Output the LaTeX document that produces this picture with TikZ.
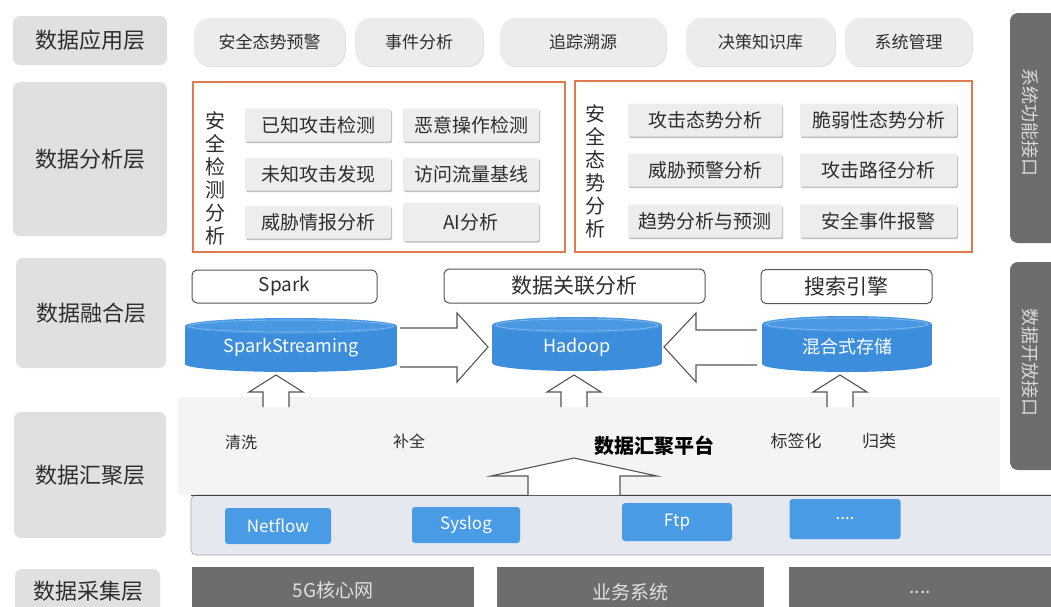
\documentclass[tikz,border=0pt]{standalone}
\usepackage{fontspec}
\setmainfont{Noto Sans CJK SC}
\usetikzlibrary{shadows}
\definecolor{lblgray}{HTML}{E0E0E0}
\definecolor{appgray}{HTML}{ECECEC}
\definecolor{cellgray}{HTML}{EDEDED}
\definecolor{orangeline}{HTML}{E07A50}
\definecolor{cylblue}{HTML}{3C8EDC}
\definecolor{cyltop}{HTML}{4A98E2}
\definecolor{boxblue}{HTML}{4A9BE6}
\definecolor{darkbar}{HTML}{6D6D6D}
\definecolor{bandfill}{HTML}{E5E8EF}
\definecolor{platfill}{HTML}{F4F4F4}
\definecolor{txt}{HTML}{2E2E2E}
\definecolor{arrline}{HTML}{555555}
\newcommand\myfs[2]{\fontsize{#1pt}{#2pt}\selectfont}
\newcommand\cylnode[6]{%
  \fill[cylblue] ({#2-#4/2},{#3-#5/2+8}) rectangle ({#2+#4/2},{#3+#5/2-8});
  \fill[cylblue] (#2,{#3+#5/2-8}) ellipse [x radius={#4/2}, y radius=8];
  \fill[cyltop] (#2,{#3-#5/2+8}) ellipse [x radius={#4/2}, y radius=8];
  \draw[white, opacity=0.35, line width=0.6pt] (#2,{#3-#5/2+8}) ellipse [x radius={#4/2-4}, y radius=6];
  \node[cyltext, minimum width=#4pt, minimum height=#5pt] (#1) at (#2,{#3+3}) {#6};
}
\begin{document}
\begin{tikzpicture}[x=1pt,y=-1pt,
  every node/.style={inner sep=0pt, text=txt},
  lbl/.style={fill=lblgray, rounded corners=7pt, font=\myfs{22}{24}},
  app/.style={fill=appgray, rounded corners=16pt, font=\myfs{17}{19}, minimum height=48pt,
    drop shadow={shadow xshift=0.8pt, shadow yshift=-1.2pt, opacity=0.12, fill=black}},
  oframe/.style={draw=orangeline, line width=1.2pt},
  vlab/.style={align=center, font=\myfs{20}{23}},
  cell/.style={fill=cellgray, font=\myfs{19}{21}, minimum height=33pt, rounded corners=2pt,
    drop shadow={shadow xshift=1pt, shadow yshift=-1.6pt, opacity=0.25, fill=black}},
  wbox/.style={draw=arrline, fill=white, rounded corners=5pt, line width=1pt, minimum height=34pt},
  cyltext/.style={text=white, font=\myfs{18}{20}},
  hollow/.style={draw=arrline, fill=white, line width=1.1pt, line join=miter},
  bbox/.style={fill=boxblue, rounded corners=3pt, text=white, font=\myfs{17}{19}},
  dbox/.style={fill=darkbar, text=white!88!black, font=\myfs{19}{21}},
  rbar/.style={fill=darkbar, rounded corners=8pt},
  rtext/.style={text=white!85!black, font=\myfs{18}{20}, rotate=-90},
  small/.style={font=\myfs{16}{18}}
]
\useasboundingbox (0,0) rectangle (1051,606);
\clip (0,0) rectangle (1051,606);
\fill[white] (0,0) rectangle (1051,606);

% ---------- left layer labels ----------
\node[lbl, minimum width=154pt, minimum height=49pt] (L1) at (90,40.5) {数据应用层};
\node[lbl, minimum width=154pt, minimum height=154pt] (L2) at (90,159) {数据分析层};
\node[lbl, minimum width=150pt, minimum height=110pt] (L3) at (91,313) {数据融合层};
\node[lbl, minimum width=152pt, minimum height=126pt] (L4) at (90,475) {数据汇聚层};
\fill[lblgray, rounded corners=7pt] (15,569) rectangle (160,630);
\node[font=\myfs{22}{24}] (L5) at (88,591) {数据采集层};

% ---------- right interface bars ----------
\fill[rbar] (1010,13) rectangle (1065,243);
\node[rtext] (R1) at (1030,122) {系统功能接口};
\fill[rbar] (1010,262) rectangle (1065,470);
\node[rtext] (R2) at (1030,362) {数据开放接口};

% ---------- application layer ----------
\node[app, minimum width=151pt] (a1) at (269.5,42) {安全态势预警};
\node[app, minimum width=128pt] (a2) at (419,42) {事件分析};
\node[app, minimum width=166pt] (a3) at (583,42) {追踪溯源};
\node[app, minimum width=149pt] (a4) at (760.5,42) {决策知识库};
\node[app, minimum width=127pt] (a5) at (908.5,42) {系统管理};

% ---------- analysis layer ----------
\node[oframe, minimum width=372pt, minimum height=170pt] (F1) at (379,167) {};
\node[oframe, minimum width=397pt, minimum height=171pt] (F2) at (773.5,166.5) {};
\node[vlab] (v1) at (215,178) {安\\全\\检\\测\\分\\析};
\node[vlab] (v2) at (595,171) {安\\全\\态\\势\\分\\析};

\node[cell, minimum width=146pt] (c11) at (318,125) {已知攻击检测};
\node[cell, minimum width=136pt] (c12) at (471,125) {恶意操作检测};
\node[cell, minimum width=146pt] (c21) at (318,174) {未知攻击发现};
\node[cell, minimum width=136pt] (c22) at (471,174) {访问流量基线};
\node[cell, minimum width=146pt] (c31) at (318,222) {威胁情报分析};
\node[cell, minimum width=136pt, minimum height=38pt] (c32) at (471,222) {AI分析};

\node[cell, minimum width=154pt] (d11) at (705,120) {攻击态势分析};
\node[cell, minimum width=157pt] (d12) at (878.5,120) {脆弱性态势分析};
\node[cell, minimum width=154pt] (d21) at (705,170) {威胁预警分析};
\node[cell, minimum width=157pt] (d22) at (878.5,170) {攻击路径分析};
\node[cell, minimum width=154pt] (d31) at (705,221) {趋势分析与预测};
\node[cell, minimum width=157pt] (d32) at (878.5,221) {安全事件报警};

% ---------- aggregation platform background ----------
\fill[platfill] (178,397) rectangle (1000,495);

% ---------- fusion layer ----------
\node[wbox, minimum width=185pt, minimum height=33pt, font=\myfs{19}{21}] (spark) at (284.5,286.5) {Spark};
\node[wbox, minimum width=261pt, font=\myfs{21}{23}] (corr) at (574.5,286) {数据关联分析};
\node[wbox, minimum width=171pt, font=\myfs{21}{23}] (search) at (846.5,286.5) {搜索引擎};

% hollow arrows between stores
\draw[hollow] (400,328) -- (457,328) -- (457,313) -- (488,347) -- (457,382) -- (457,367) -- (400,367);
\draw[hollow] (757,330) -- (696,330) -- (696,313) -- (664,347) -- (696,382) -- (696,365) -- (757,365);

\cylnode{ss}{291}{345}{212}{54}{SparkStreaming}
\cylnode{hd}{577}{344}{170}{54}{Hadoop}
\cylnode{mix}{847}{344}{170}{56}{混合式存储}

% small up arrows into stores
\foreach \cx/\nm in {276/u1, 574/u2, 840/u3}{
  \draw[hollow] ({\cx-13},407) -- ({\cx-13},392) -- ({\cx-27},392) -- (\cx,375) -- ({\cx+27},392) -- ({\cx+13},392) -- ({\cx+13},407);
}

% ---------- aggregation layer ----------
\node[small] (t1) at (241,442) {清洗};
\node[small] (t2) at (409,441) {补全};
\node[font=\myfs{20}{22}\bfseries, text=black] (plat) at (654,446) {数据汇聚平台};
\node[font=\myfs{17}{19}] (t3) at (796,441) {标签化};
\node[font=\myfs{17}{19}] (t4) at (879,441) {归类};

% band of sources
\fill[bandfill, rounded corners=5pt] (191,495) rectangle (1070,555);
\draw[gray!70, line width=0.6pt, rounded corners=5pt] (1070,555) -- (191,555) -- (191,495) -- (1070,495);
\draw[arrline!80!black, line width=1pt] (191,495) -- (1051,495);

% big hollow up arrow
\draw[hollow] (528,495) -- (528,476) -- (491,476) -- (574,458) -- (657,476) -- (620,476) -- (620,495);

\node[bbox, minimum width=106pt, minimum height=36pt] (nf) at (278,526) {Netflow};
\node[bbox, minimum width=108pt, minimum height=36pt] (sy) at (466,525) {Syslog};
\node[bbox, minimum width=110pt, minimum height=38pt] (ftp) at (677,522) {Ftp};
\node[bbox, minimum width=111pt, minimum height=40pt] (etc) at (845,519) {....};

% ---------- collection layer ----------
\fill[darkbar] (192,567) rectangle (474,620);
\node[dbox] (s1) at (333,590) {5G核心网};
\fill[darkbar] (497,567) rectangle (764,620);
\node[dbox] (s2) at (630.5,592) {业务系统};
\fill[darkbar] (789,567) rectangle (1060,620);
\node[dbox] (s3) at (920,592) {....};
\end{tikzpicture}
\end{document}
